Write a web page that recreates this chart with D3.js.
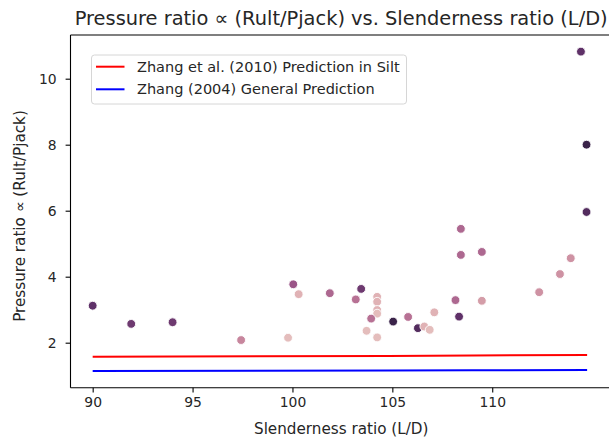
<!DOCTYPE html>
<html>
<head>
<meta charset="utf-8">
<script src="https://cdn.jsdelivr.net/npm/d3@7"></script>
<style>
  html, body { margin: 0; padding: 0; background: #fff; }
  svg { display: block; font-family: "DejaVu Sans", sans-serif; }
</style>
</head>
<body>
<svg id="chart" width="609" height="438"></svg>
<script>
// ---- data ----
const xTicks = [90, 95, 100, 105, 110];
const yTicks = [2, 4, 6, 8, 10];

const slenderness = [114.44, 114.72, 114.72, 112.35, 113.39, 113.93, 90.0, 91.93, 94.0, 97.43,
  99.78, 100.04, 100.31, 101.87, 103.44, 103.17, 104.24, 104.24, 104.24, 104.24,
  103.94, 103.71, 104.24, 105.04, 105.79, 106.28, 106.6, 106.87, 107.1, 108.16,
  108.34, 108.43, 108.43, 109.48, 109.48];
const pressureRatio = [10.82, 8.0, 5.96, 3.53, 4.08, 4.56, 3.12, 2.57, 2.62, 2.08,
  2.15, 3.77, 3.47, 3.50, 3.63, 3.31, 3.39, 3.24, 2.99, 2.88,
  2.73, 2.36, 2.16, 2.64, 2.78, 2.44, 2.49, 2.39, 2.92, 3.29,
  2.79, 5.45, 4.66, 4.75, 3.27];
const hueLevel = [0.8, 0.95, 0.85, 0.3, 0.3, 0.3, 0.8, 0.75, 0.75, 0.35,
  0.1, 0.6, 0.15, 0.5, 0.75, 0.45, 0.15, 0.15, 0.15, 0.1,
  0.45, 0.1, 0.1, 0.95, 0.45, 0.85, 0.15, 0.1, 0.15, 0.5,
  0.8, 0.5, 0.5, 0.5, 0.25];

const lineX = [90, 104.78, 108.98, 114.75];
const zhang2010 = [1.576, 1.60, 1.612, 1.627];
const zhang2004 = [1.142, 1.155, 1.162, 1.173];

const seriesNames = ["Zhang et al. (2010) Prediction in Silt", "Zhang (2004) General Prediction"];
const seriesColors = ["#ff0000", "#0000ff"];

// ---- layout ----
const svg = d3.select("#chart");
const mLeft = 70.5, mRight = 611.9, mTop = 35, mBottom = 387.7;

const x = d3.scaleLinear().domain([88.89, 115.99]).range([mLeft, mRight]);
const y = d3.scaleLinear().domain([0.636, 11.324]).range([mBottom, mTop]);
const hue = d3.scaleLinear()
  .domain([0, 0.2, 0.4, 0.6, 0.8, 1])
  .range(["#edd1cb", "#dba8ad", "#c07b98", "#9a5487", "#5f3168", "#2d1e3e"]);

svg.append("defs").append("clipPath").attr("id", "clip")
  .append("rect").attr("x", mLeft).attr("y", mTop).attr("width", mRight - mLeft).attr("height", mBottom - mTop);

const plot = svg.append("g").attr("clip-path", "url(#clip)");

// scatter
plot.selectAll("circle.pt").data(slenderness.map((d, i) => ({x: d, y: pressureRatio[i], h: hueLevel[i]})))
  .join("circle")
  .attr("class", "pt")
  .attr("cx", d => x(d.x)).attr("cy", d => y(d.y)).attr("r", 4.4)
  .attr("fill", d => hue(d.h))
  .attr("stroke", "#fff").attr("stroke-width", 0.9);

// lines
const lineGen = d3.line().x(d => x(d[0])).y(d => y(d[1]));
[zhang2010, zhang2004].forEach((vals, k) => {
  plot.append("path")
    .datum(lineX.map((lx, i) => [lx, vals[i]]))
    .attr("d", lineGen)
    .attr("fill", "none").attr("stroke", seriesColors[k]).attr("stroke-width", 2);
});

// axes
const xAxis = d3.axisBottom(x).tickValues(xTicks).tickSize(4.9).tickPadding(4.5).tickFormat(d3.format("d"));
const yAxis = d3.axisLeft(y).tickValues(yTicks).tickSize(4.9).tickPadding(9).tickFormat(d3.format("d"));

const gx = svg.append("g").attr("transform", `translate(0,${mBottom})`).call(xAxis);
const gy = svg.append("g").attr("transform", `translate(${mLeft},0)`).call(yAxis);
[gx, gy].forEach(g => {
  g.select(".domain").remove();
  g.selectAll("line").attr("stroke", "#000").attr("stroke-width", 1.1);
  g.selectAll("text").attr("font-family", "DejaVu Sans").attr("font-size", 13.9).attr("fill", "#262626");
});

// spines
const spines = svg.append("g").attr("stroke", "#000").attr("stroke-width", 1.1).attr("fill", "none");
spines.append("line").attr("x1", mLeft).attr("x2", mLeft).attr("y1", mTop).attr("y2", mBottom);
spines.append("line").attr("x1", mLeft).attr("x2", mRight).attr("y1", mBottom).attr("y2", mBottom);
spines.append("line").attr("x1", mLeft).attr("x2", mRight).attr("y1", mTop).attr("y2", mTop);
spines.append("line").attr("x1", mRight).attr("x2", mRight).attr("y1", mTop).attr("y2", mBottom);

// title & labels
svg.append("text").attr("x", (mLeft + mRight) / 2).attr("y", 25).attr("text-anchor", "middle")
  .attr("font-size", 19.4).attr("fill", "#262626")
  .text("Pressure ratio \u221D (Rult/Pjack) vs. Slenderness ratio (L/D)");
svg.append("text").attr("x", (mLeft + mRight) / 2).attr("y", 433.5).attr("text-anchor", "middle")
  .attr("font-size", 15.2).attr("fill", "#262626").text("Slenderness ratio (L/D)");
svg.append("text").attr("transform", `translate(25,216) rotate(-90)`).attr("text-anchor", "middle")
  .attr("font-size", 15.2).attr("fill", "#262626").text("Pressure ratio \u221D (Rult/Pjack)");

// legend
const lg = svg.append("g");
lg.append("rect").attr("x", 91.5).attr("y", 55).attr("width", 315).attr("height", 49)
  .attr("rx", 3).attr("fill", "#fff").attr("fill-opacity", 0.8).attr("stroke", "#d6d6d6").attr("stroke-width", 1);
seriesNames.forEach((name, i) => {
  const ly = 66.7 + i * 22.6;
  lg.append("line").attr("x1", 96).attr("x2", 124.5).attr("y1", ly).attr("y2", ly)
    .attr("stroke", seriesColors[i]).attr("stroke-width", 2);
  lg.append("text").attr("x", 137).attr("y", ly + 5).attr("font-size", 14.5).attr("fill", "#262626").text(name);
});
</script>
</body>
</html>
